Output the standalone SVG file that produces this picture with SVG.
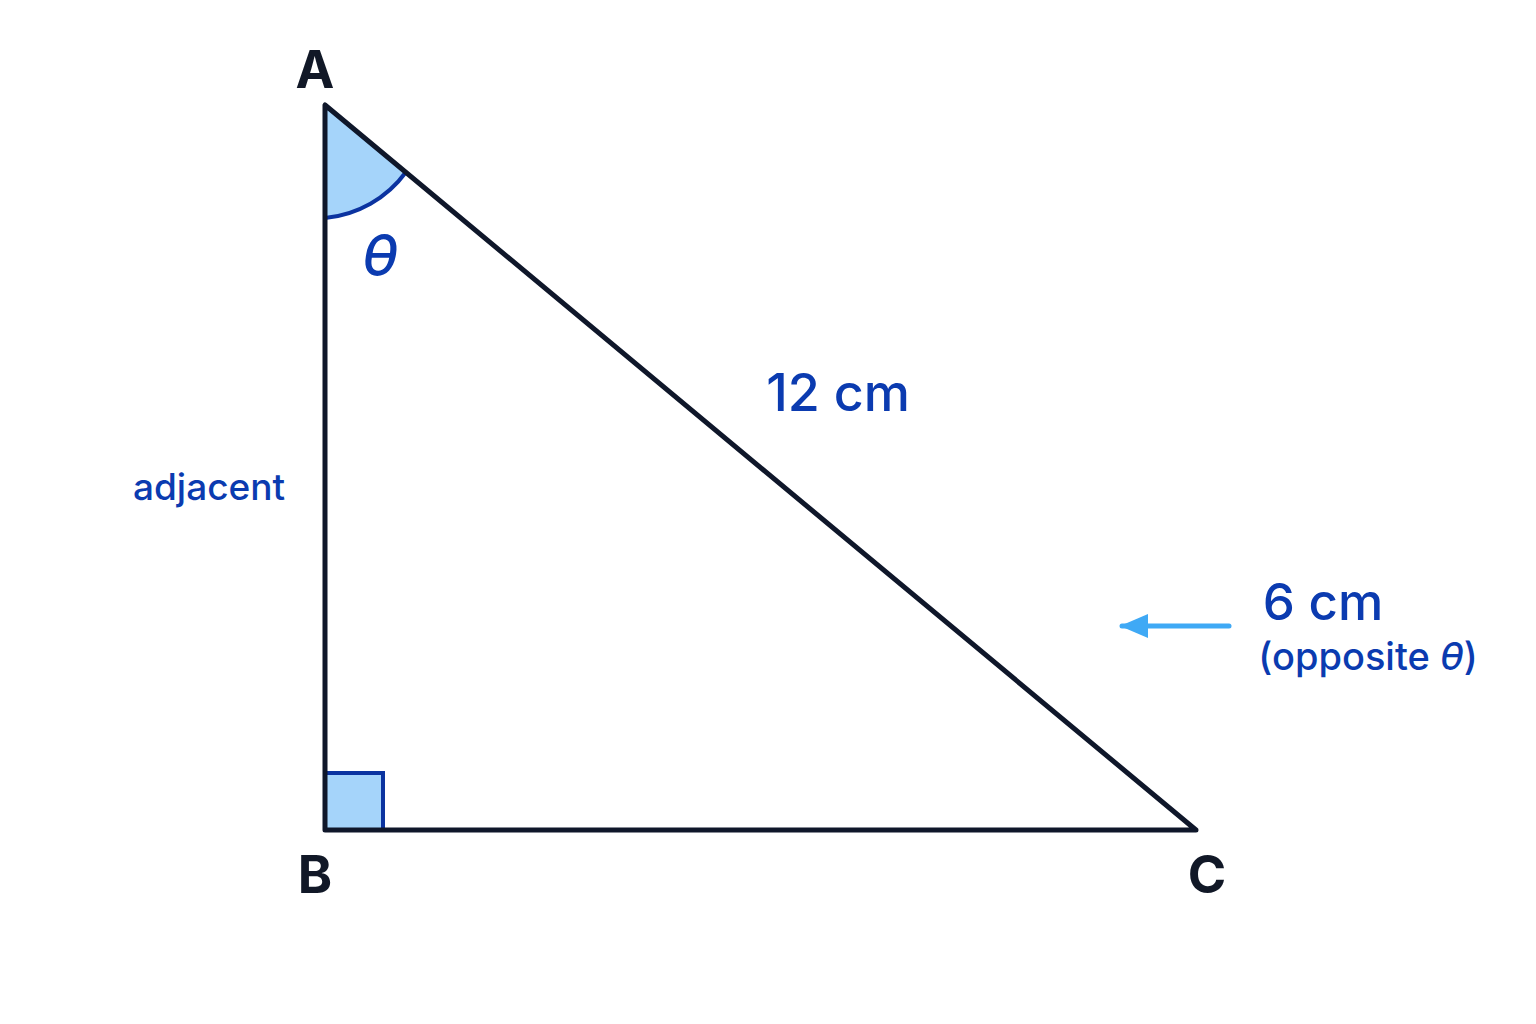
<svg xmlns="http://www.w3.org/2000/svg" width="1536" height="1024" viewBox="0 0 1536 1024">
<style>
.lbl{font-family:Inter,"Liberation Sans",sans-serif;font-weight:700;font-size:52px;fill:#111827;text-anchor:middle}
.blue{font-family:Inter,"Liberation Sans",sans-serif;font-weight:500;fill:#0b3bb0}
.edge{fill:none;stroke:#0f172a;stroke-width:5;stroke-linejoin:round;stroke-linecap:round}
.mark{fill:#a5d4fa;stroke:#0b33a0;stroke-width:4}
</style>
<defs>
<marker id="ah" markerWidth="28" markerHeight="28" refX="26" refY="14" orient="auto" markerUnits="userSpaceOnUse" viewBox="0 0 28 28">
<path d="M0,2 L28,14 L0,26 z" fill="#3fa9f5"/>
</marker>
</defs>
<rect width="1536" height="1024" fill="#ffffff"/>
<g id="angle-mark">
<path d="M325,105 L325,218 A113,113 0 0 0 406,172 Z" fill="#a5d4fa" stroke="none"/>
<path d="M325,218 A113,113 0 0 0 406,172" fill="none" stroke="#0b33a0" stroke-width="4"/>
</g>
<g id="right-angle">
<rect x="325" y="773" width="58" height="57" class="mark"/>
</g>
<g id="triangle">
<path d="M325,105 L325,830 L1196,830 Z" class="edge"/>
</g>
<g id="vertex-A"><text x="315" y="88" class="lbl">A</text></g>
<g id="vertex-B"><text x="315" y="893" class="lbl">B</text></g>
<g id="vertex-C"><text x="1207" y="893" class="lbl">C</text></g>
<g id="theta"><text x="380" y="276" class="blue" font-size="58" font-style="italic" text-anchor="middle">θ</text></g>
<g id="hyp-label"><text x="838" y="411" class="blue" font-size="52" text-anchor="middle">12 cm</text></g>
<g id="adj-label"><text x="209" y="500" class="blue" font-size="37" text-anchor="middle">adjacent</text></g>
<g id="opp-label">
<text x="1323" y="620" class="blue" font-size="51" text-anchor="middle">6 cm</text>
<text x="1368" y="670" class="blue" font-size="38" text-anchor="middle">(opposite <tspan font-style="italic">θ</tspan>)</text>
</g>
<g id="connectors">
<line x1="1229" y1="626" x2="1122" y2="626" stroke="#3fa9f5" stroke-width="5" stroke-linecap="round" marker-end="url(#ah)"/>
</g>
</svg>
